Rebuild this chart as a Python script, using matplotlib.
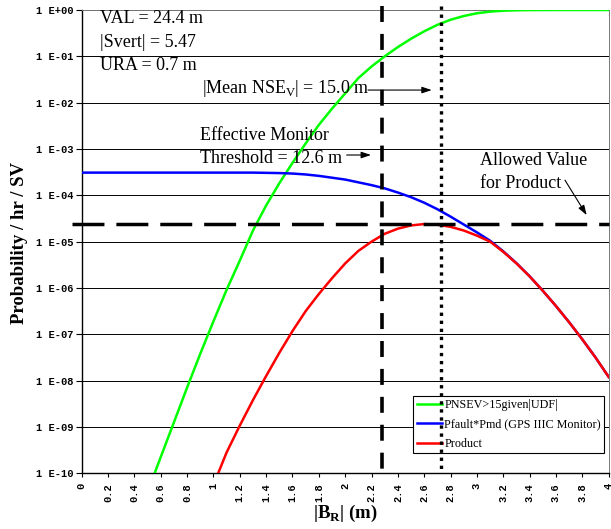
import numpy as np
import matplotlib
matplotlib.use("Agg")
import matplotlib.pyplot as plt
from matplotlib.ticker import FixedLocator, FuncFormatter

# bias |B_R| (m) for each curve
x_green = [0.5, 0.6, 0.7, 0.8, 0.9, 1.0, 1.1, 1.2, 1.3, 1.4, 1.5, 1.6, 1.7, 1.8,
           1.9, 2.0, 2.1, 2.2, 2.3, 2.4, 2.5, 2.6, 2.7, 2.8, 2.9, 3.0, 3.1, 3.2,
           3.3, 3.4, 3.5, 3.6, 3.7, 3.8, 3.9, 4.0]
x_blue = [0.0, 0.1, 0.2, 0.3, 0.4, 0.5, 0.6, 0.7, 0.8, 0.9, 1.0, 1.1, 1.2, 1.3,
          1.4, 1.5, 1.6, 1.7, 1.8, 1.9, 2.0, 2.1, 2.2, 2.3, 2.4, 2.5, 2.6, 2.7,
          2.8, 2.9, 3.0, 3.1, 3.2, 3.3, 3.4, 3.5, 3.6, 3.7, 3.8, 3.9, 4.0]
x_red = [1.0, 1.1, 1.2, 1.3, 1.4, 1.5, 1.6, 1.7, 1.8, 1.9, 2.0, 2.1, 2.2, 2.3,
         2.4, 2.5, 2.6, 2.7, 2.8, 2.9, 3.0, 3.1, 3.2, 3.3, 3.4, 3.5, 3.6, 3.7,
         3.8, 3.9, 4.0]

# log10 of probability / hr / SV
log_pnsev = [-10.4, -9.65, -8.9, -8.15, -7.42, -6.72, -6.04, -5.41, -4.76, -4.22,
             -3.74, -3.3, -2.88, -2.48, -2.13, -1.8, -1.47, -1.22, -1.0, -0.8,
             -0.62, -0.46, -0.32, -0.21, -0.13, -0.07, -0.035, -0.015, -0.006,
             -0.002, -0.001, 0.0, 0.0, 0.0, 0.0, 0.0]
log_pfault = [-3.51, -3.51, -3.51, -3.51, -3.51, -3.51, -3.51, -3.51, -3.51,
              -3.51, -3.51, -3.51, -3.51, -3.51, -3.515, -3.52, -3.53, -3.55,
              -3.58, -3.62, -3.66, -3.72, -3.78, -3.85, -3.94, -4.04, -4.16,
              -4.30, -4.46, -4.63, -4.80, -4.98, -5.21, -5.465, -5.748, -6.06,
              -6.39, -6.74, -7.11, -7.5, -7.92]
log_product = [-10.25, -9.55, -8.97, -8.42, -7.9, -7.4, -6.93, -6.5, -6.13,
               -5.79, -5.47, -5.2, -5.0, -4.83, -4.72, -4.65, -4.62, -4.635,
               -4.68, -4.76, -4.87, -5.0, -5.22, -5.47, -5.75, -6.06, -6.39,
               -6.74, -7.11, -7.5, -7.92]

legend_labels = ["PNSEV>15given|UDF|", "Pfault*Pmd (GPS IIIC Monitor)", "Product"]

allowed_product = 2.4e-5      # allowed value for product
monitor_threshold = 2.28      # effective monitor threshold = 12.6 m
mean_nse = 2.73               # |mean NSE_V| = 15.0 m

plt.rcParams["font.family"] = "Liberation Serif"
plt.rcParams["mathtext.fontset"] = "custom"
plt.rcParams["mathtext.rm"] = "Liberation Serif"
plt.rcParams["mathtext.bf"] = "Liberation Serif:bold"
plt.rcParams["lines.scale_dashes"] = False

fig = plt.figure(figsize=(6.11, 5.29), dpi=100)
ax = fig.add_axes([0.1337, 0.1053, 0.8625, 0.8758])

ax.set_yscale("log")
ax.set_xlim(0, 4)
ax.set_ylim(1e-10, 1)

# curves
ax.plot(x_green, 10.0 ** np.array(log_pnsev), color="#00ff00", lw=1.8,
        label=legend_labels[0], zorder=3)
ax.plot(x_blue, 10.0 ** np.array(log_pfault), color="#0000ff", lw=1.8,
        label=legend_labels[1], zorder=3)
ax.plot(x_red, 10.0 ** np.array(log_product), color="#ff0000", lw=1.8,
        label=legend_labels[2], zorder=3)

# reference lines
ax.plot([-0.07, 4], [allowed_product, allowed_product], color="black", lw=2.5,
        dashes=(23, 8.6), solid_capstyle="butt", dash_capstyle="butt",
        clip_on=False, zorder=6)
ax.plot([monitor_threshold, monitor_threshold], [1.2, 1e-10], color="black",
        lw=2.6, dashes=(11.5, 8.6), dash_capstyle="butt", clip_on=False, zorder=6)
ax.plot([mean_nse, mean_nse], [1.2, 1e-10], color="black", lw=2.4,
        dashes=(2.4, 3.4), dash_capstyle="butt", clip_on=False, zorder=6)

# axes, ticks, grid
ax.yaxis.set_major_locator(FixedLocator([10.0 ** -k for k in range(11)]))
ax.yaxis.set_minor_locator(FixedLocator([]))
ax.yaxis.set_major_formatter(FuncFormatter(
    lambda v, pos: "1 E%+03d" % int(round(np.log10(v)))))
ax.set_xticks(np.arange(0, 4.01, 0.2))
ax.set_xticklabels(["%g" % round(t, 1) for t in np.arange(0, 4.01, 0.2)],
                   rotation=90)
for lab in ax.get_xticklabels() + ax.get_yticklabels():
    lab.set_family("Liberation Mono")
    lab.set_fontweight("bold")
    lab.set_fontsize(7.5)
ax.tick_params(axis="y", direction="out", length=4, width=0.8, pad=2)
ax.tick_params(axis="x", direction="out", length=3, width=0.8, pad=4)

ax.yaxis.grid(True, color="black", lw=0.7)
ax.set_axisbelow(True)
ax.spines["left"].set_linewidth(1.0)
ax.spines["bottom"].set_linewidth(1.0)
ax.spines["top"].set_color("#777777")
ax.spines["top"].set_linewidth(0.7)
ax.spines["right"].set_color("#777777")
ax.spines["right"].set_linewidth(0.7)

ax.set_ylabel("Probability / hr / SV", fontsize=13.5, fontweight="bold")
ax.yaxis.set_label_coords(-0.102, 0.498)
ax.set_xlabel(r"|B$_\mathbf{R}$| (m)", fontsize=13.5, fontweight="bold")
ax.xaxis.set_label_coords(0.5, -0.064)

# notes
ax.text(0.139, 10 ** -0.287, "VAL = 24.4 m", fontsize=13, va="baseline")
ax.text(0.139, 10 ** -0.793, "|Svert| = 5.47", fontsize=13, va="baseline")
ax.text(0.139, 10 ** -1.296, "URA = 0.7 m", fontsize=13, va="baseline")
ax.text(0.911, 10 ** -1.80, r"|Mean NSE$_\mathregular{V}$| = 15.0 m",
        fontsize=13, va="baseline")
ax.text(0.898, 10 ** -2.81, "Effective Monitor", fontsize=13, va="baseline")
ax.text(0.898, 10 ** -3.30, "Threshold = 12.6 m", fontsize=13, va="baseline")
ax.text(3.023, 10 ** -3.35, "Allowed Value", fontsize=13, va="baseline")
ax.text(3.023, 10 ** -3.85, "for Product", fontsize=13, va="baseline")

arrow = dict(arrowstyle="-|>,head_length=0.45,head_width=0.15", color="black",
             lw=0.8, mutation_scale=13, shrinkA=0, shrinkB=0)
ax.annotate("", xy=(2.657, 10 ** -1.728), xytext=(2.173, 10 ** -1.728),
            arrowprops=arrow)
ax.annotate("", xy=(2.196, 10 ** -3.13), xytext=(2.011, 10 ** -3.13),
            arrowprops=arrow)
ax.annotate("", xy=(3.833, 10 ** -4.428), xytext=(3.668, 10 ** -3.672),
            arrowprops=arrow)

leg = ax.legend(loc="upper left", bbox_to_anchor=(0.629, 0.1675),
                borderaxespad=0, fontsize=8.7, fancybox=False,
                edgecolor="black", framealpha=1, handlelength=2.1,
                handletextpad=0.2, labelspacing=0.62, borderpad=0.28)
leg.get_frame().set_linewidth(0.8)

fig.savefig("out.png", dpi=100)
